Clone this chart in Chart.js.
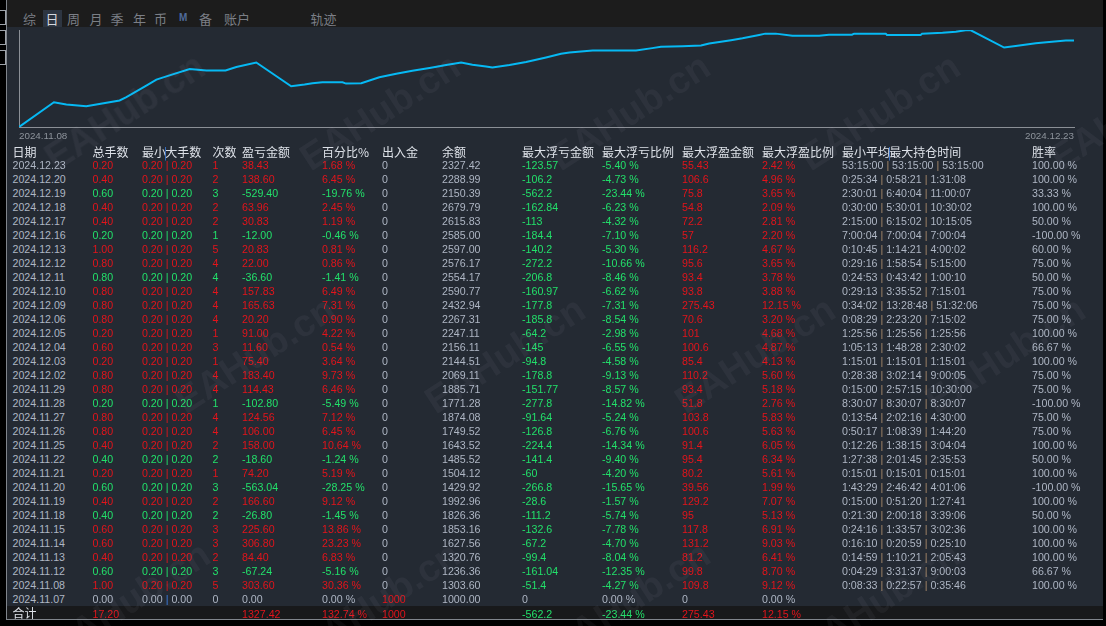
<!DOCTYPE html>
<html>
<head>
<meta charset="utf-8">
<script src="https://cdn.jsdelivr.net/npm/chart.js@4.4.1/dist/chart.umd.min.js"></script>
<style>
  html, body { margin: 0; padding: 0; background: #000; }
  #screen { position: relative; width: 1106px; height: 626px; overflow: hidden; background: #000;
            font-family: "Liberation Sans", Arial, sans-serif; }
  #topbar { position: absolute; left: 7px; top: 0; width: 1096px; height: 27px; background: #1c1c1c; }
  #panel { position: absolute; left: 7px; top: 27px; width: 1096px; height: 592px; background: #242a33; }
  #frame { position: absolute; left: 6px; top: 0; width: 1097px; height: 620px;
           border-left: 1px solid #80858c; border-bottom: 1px solid #80858c; box-sizing: border-box; }
  #sumrow { position: absolute; left: 7px; top: 606px; width: 1096px; height: 13px; background: #18191b; }
  .tab { position: absolute; top: 10px; font: 13px "Noto Sans CJK SC", sans-serif; color: #7b7f86; line-height: 17px; }
  .tab.sel { color: #d4d8de; background: #2d3541; padding: 0 3px; margin-left: -3px; }
  .box { position: absolute; left: -6px; width: 10px; height: 13px; border: 1px solid #9ea3aa; }
  #curve { position: absolute; left: 0; top: 27px; }
  .cell { position: absolute; white-space: nowrap; font-size: 10.65px; line-height: 14px; height: 14px; }
  .head { font: 12px "Noto Sans CJK SC", sans-serif; color: #dde1e8; line-height: 14px; }
  .wm { position: absolute; font: bold 38px "Liberation Sans", Arial, sans-serif; color: rgba(210,220,235,0.05);
        transform: translate(-50%, -50%) rotate(-33deg); white-space: nowrap; pointer-events: none; }
</style>
</head>
<body>
<div id="screen">
  <div id="topbar"></div>
  <div id="panel"></div>
  <div id="sumrow"></div>
  <div id="frame"></div>
  <div class="box" style="top:10px"></div>
  <div class="box" style="top:30px"></div>
  <div class="box" style="top:50px"></div>
  <div id="tabs"></div>
  <canvas id="curve" width="1106" height="124"></canvas>
  <div id="table"></div>
</div>
<script>
// equity curve (x: days after 2024.11.08, y: balance)
const curveDay = [0, 1.49, 2.02, 2.87, 3.30, 4.29, 4.58, 5.43, 5.86, 6.42, 7.28, 7.99, 8.81, 9.27, 10.12,
  11.61, 12.18, 12.52, 12.94, 13.80, 13.95, 14.60, 15.37, 16.09, 16.78, 17.51, 18.22, 18.86, 19.34, 19.92,
  20.19, 20.92, 21.63, 22.48, 23.12, 23.48, 23.97, 24.47, 26.32, 27.01, 27.38, 28.30, 29.09, 29.44, 30.37,
  30.86, 31.57, 31.83, 32.28, 32.99, 34.13, 34.55, 35.53, 35.62, 36.97, 37.02, 38.46, 38.52, 39.39, 39.96,
  40.38, 40.60, 42.02, 42.51, 43.37, 43.94, 44.65, 45.00];
const curveEquity = [1000, 1431, 1392, 1362, 1392, 1461, 1518, 1719, 1823, 1897, 2007, 1983, 1983, 2042, 2121,
  1707, 1737, 1759, 1776, 1776, 1754, 1759, 1863, 1926, 1978, 2025, 2076, 2121, 2082, 2052,
  2035, 2076, 2128, 2208, 2271, 2294, 2311, 2328, 2328, 2370, 2392, 2404, 2415, 2449, 2508,
  2542, 2599, 2622, 2622, 2587, 2587, 2604, 2604, 2622, 2622, 2599, 2599, 2622, 2639, 2656,
  2680, 2680, 2380, 2409, 2456, 2478, 2501, 2501];
const axisLabels = ["2024.11.08", "2024.12.23"];

const tabNames = ["综", "日", "周", "月", "季", "年", "币", "M", "备", "账户", "轨迹"];

// daily report table
const headers = ["日期", "总手数", "最小|大手数", "次数", "盈亏金额", "百分比%", "出入金", "余额",
  "最大浮亏金额", "最大浮亏比例", "最大浮盈金额", "最大浮盈比例", "最小平均|最大持仓时间", "胜率"];
const dates = ["2024.12.23", "2024.12.20", "2024.12.19", "2024.12.18", "2024.12.17", "2024.12.16",
  "2024.12.13", "2024.12.12", "2024.12.11", "2024.12.10", "2024.12.09", "2024.12.06", "2024.12.05",
  "2024.12.04", "2024.12.03", "2024.12.02", "2024.11.29", "2024.11.28", "2024.11.27", "2024.11.26",
  "2024.11.25", "2024.11.22", "2024.11.21", "2024.11.20", "2024.11.19", "2024.11.18", "2024.11.15",
  "2024.11.14", "2024.11.13", "2024.11.12", "2024.11.08", "2024.11.07"];
const totalLots = ["0.20", "0.40", "0.60", "0.40", "0.40", "0.20", "1.00", "0.80", "0.80", "0.80", "0.80",
  "0.80", "0.20", "0.60", "0.20", "0.80", "0.80", "0.20", "0.80", "0.80", "0.40", "0.40", "0.20", "0.60",
  "0.40", "0.40", "0.60", "0.60", "0.40", "0.60", "1.00", "0.00"];
const tradeCounts = [1, 2, 3, 2, 2, 1, 5, 4, 4, 4, 4, 4, 1, 3, 1, 4, 4, 1, 4, 4, 2, 2, 1, 3, 2, 2, 3, 3, 2, 3, 5, 0];
const profits = ["38.43", "138.60", "-529.40", "63.96", "30.83", "-12.00", "20.83", "22.00", "-36.60",
  "157.83", "165.63", "20.20", "91.00", "11.60", "75.40", "183.40", "114.43", "-102.80", "124.56",
  "106.00", "158.00", "-18.60", "74.20", "-563.04", "166.60", "-26.80", "225.60", "306.80", "84.40",
  "-67.24", "303.60", "0.00"];
const percents = ["1.68", "6.45", "-19.76", "2.45", "1.19", "-0.46", "0.81", "0.86", "-1.41", "6.49",
  "7.31", "0.90", "4.22", "0.54", "3.64", "9.73", "6.46", "-5.49", "7.12", "6.45", "10.64", "-1.24",
  "5.19", "-28.25", "9.12", "-1.45", "13.86", "23.23", "6.83", "-5.16", "30.36", "0.00"];
const deposits = ["0", "0", "0", "0", "0", "0", "0", "0", "0", "0", "0", "0", "0", "0", "0", "0", "0",
  "0", "0", "0", "0", "0", "0", "0", "0", "0", "0", "0", "0", "0", "0", "1000"];
const balances = ["2327.42", "2288.99", "2150.39", "2679.79", "2615.83", "2585.00", "2597.00", "2576.17",
  "2554.17", "2590.77", "2432.94", "2267.31", "2247.11", "2156.11", "2144.51", "2069.11", "1885.71",
  "1771.28", "1874.08", "1749.52", "1643.52", "1485.52", "1504.12", "1429.92", "1992.96", "1826.36",
  "1853.16", "1627.56", "1320.76", "1236.36", "1303.60", "1000.00"];
const floatLoss = ["-123.57", "-106.2", "-562.2", "-162.84", "-113", "-184.4", "-140.2", "-272.2",
  "-206.8", "-160.97", "-177.8", "-185.8", "-64.2", "-145", "-94.8", "-178.8", "-151.77", "-277.8",
  "-91.64", "-126.8", "-224.4", "-141.4", "-60", "-266.8", "-28.6", "-111.2", "-132.6", "-67.2",
  "-99.4", "-161.04", "-51.4", "0"];
const floatLossPct = ["-5.40", "-4.73", "-23.44", "-6.23", "-4.32", "-7.10", "-5.30", "-10.66", "-8.46",
  "-6.62", "-7.31", "-8.54", "-2.98", "-6.55", "-4.58", "-9.13", "-8.57", "-14.82", "-5.24", "-6.76",
  "-14.34", "-9.40", "-4.20", "-15.65", "-1.57", "-5.74", "-7.78", "-4.70", "-8.04", "-12.35", "-4.27", "0.00"];
const floatProfit = ["55.43", "106.6", "75.8", "54.8", "72.2", "57", "116.2", "95.6", "93.4", "93.8",
  "275.43", "70.6", "101", "100.6", "85.4", "110.2", "93.4", "51.8", "103.8", "100.6", "91.4", "95.4",
  "80.2", "39.56", "129.2", "95", "117.8", "131.2", "81.2", "99.8", "109.8", "0"];
const floatProfitPct = ["2.42", "4.96", "3.65", "2.09", "2.81", "2.20", "4.67", "3.65", "3.78", "3.88",
  "12.15", "3.20", "4.68", "4.87", "4.13", "5.60", "5.18", "2.76", "5.83", "5.63", "6.05", "6.34",
  "5.61", "1.99", "7.07", "5.13", "6.91", "9.03", "6.41", "8.70", "9.12", "0.00"];
const holdTimes = ["53:15:00|53:15:00|53:15:00", "0:25:34|0:58:21|1:31:08", "2:30:01|6:40:04|11:00:07",
  "0:30:00|5:30:01|10:30:02", "2:15:00|6:15:02|10:15:05", "7:00:04|7:00:04|7:00:04",
  "0:10:45|1:14:21|4:00:02", "0:29:16|1:58:54|5:15:00", "0:24:53|0:43:42|1:00:10",
  "0:29:13|3:35:52|7:15:01", "0:34:02|13:28:48|51:32:06", "0:08:29|2:23:20|7:15:02",
  "1:25:56|1:25:56|1:25:56", "1:05:13|1:48:28|2:30:02", "1:15:01|1:15:01|1:15:01",
  "0:28:38|3:02:14|9:00:05", "0:15:00|2:57:15|10:30:00", "8:30:07|8:30:07|8:30:07",
  "0:13:54|2:02:16|4:30:00", "0:50:17|1:08:39|1:44:20", "0:12:26|1:38:15|3:04:04",
  "1:27:38|2:01:45|2:35:53", "0:15:01|0:15:01|0:15:01", "1:43:29|2:46:42|4:01:06",
  "0:15:00|0:51:20|1:27:41", "0:21:30|2:00:18|3:39:06", "0:24:16|1:33:57|3:02:36",
  "0:16:10|0:20:59|0:25:10", "0:14:59|1:10:21|2:05:43", "0:04:29|3:31:37|9:00:03",
  "0:08:33|0:22:57|0:35:46", ""];
const winRates = ["100.00", "100.00", "33.33", "100.00", "50.00", "-100.00", "60.00", "75.00", "50.00",
  "75.00", "75.00", "75.00", "100.00", "66.67", "100.00", "75.00", "75.00", "-100.00", "75.00", "75.00",
  "100.00", "50.00", "100.00", "-100.00", "100.00", "50.00", "100.00", "100.00", "100.00", "66.67", "100.00", ""];
const totalsRow = { lots: "17.20", profit: "1327.42", pct: "132.74", deposit: "1000",
  floatLoss: "-562.2", floatLossPct: "-23.44", floatProfit: "275.43", floatProfitPct: "12.15" };

const RED = "#e3141b", GREEN = "#22e06a", GRAY = "#aeb6c4", PIPE = "#3d7fe0", TAN = "#a8896a";
const colX = [12.5, 92.5, 142, 212.5, 242, 322, 382, 442, 522, 602, 682, 762, 842, 1032];
const headY = 144.5, firstRowY = 158, rowStep = 14, sumY = 606.5;

// tabs
const tabX = [23, 45.5, 67, 89.5, 110.5, 133, 154, 179, 199, 224, 310.5];
const tabs = document.getElementById("tabs");
tabNames.forEach((t, i) => {
  const el = document.createElement("div");
  el.className = "tab" + (i === 1 ? " sel" : "");
  el.style.left = tabX[i] + "px";
  el.textContent = t;
  if (t === "M") {
    el.style.font = "bold 10px 'Liberation Sans', sans-serif";
    el.style.color = "#4f6a9a";
    el.style.top = "12px";
  }
  tabs.appendChild(el);
});

// watermark
const screen = document.getElementById("screen");
[[125, 112], [380, 112], [630, 112], [880, 112], [1130, 112],
 [255, 355], [505, 355], [755, 355], [1005, 355],
 [130, 600], [380, 600], [630, 600], [880, 600]].forEach(([x, y]) => {
  const w = document.createElement("div");
  w.className = "wm";
  w.style.left = x + "px";
  w.style.top = y + "px";
  w.textContent = "EAHub.cn";
  screen.appendChild(w);
});

// table
const table = document.getElementById("table");
function cell(x, y, html, color, cls) {
  const el = document.createElement("div");
  el.className = cls || "cell";
  el.style.left = x + "px";
  el.style.top = y + "px";
  if (color) el.style.color = color;
  el.innerHTML = html;
  table.appendChild(el);
}
function pipeJoin(text, pipeColor) {
  return text.split("|").join(` <span style="color:${pipeColor}">|</span> `);
}

headers.forEach((h, i) => {
  const html = h.includes("|")
    ? h.replace("|", `<span style="color:${PIPE};margin:0 -2px">|</span>`) : h;
  cell(colX[i], headY, html, null, "cell head");
});

dates.forEach((d, r) => {
  const y = firstRowY + r * rowStep;
  const p = parseFloat(profits[r]);
  const sign = p > 0 ? RED : p < 0 ? GREEN : GRAY;
  cell(colX[0], y, d, GRAY);
  cell(colX[1], y, totalLots[r], sign);
  const lot = totalLots[r] === "0.00" ? "0.00" : "0.20";
  cell(colX[2], y, pipeJoin(lot + "|" + lot, p === 0 ? PIPE : sign), sign);
  cell(colX[3], y, String(tradeCounts[r]), sign);
  cell(colX[4], y, profits[r], sign);
  cell(colX[5], y, percents[r] + " %", sign);
  cell(colX[6], y, deposits[r], deposits[r] === "0" ? GRAY : RED);
  cell(colX[7], y, balances[r], GRAY);
  const fl = parseFloat(floatLoss[r]), fp = parseFloat(floatProfit[r]);
  cell(colX[8], y, floatLoss[r], fl < 0 ? GREEN : GRAY);
  cell(colX[9], y, floatLossPct[r] + " %", fl < 0 ? GREEN : GRAY);
  cell(colX[10], y, floatProfit[r], fp > 0 ? RED : GRAY);
  cell(colX[11], y, floatProfitPct[r] + " %", fp > 0 ? RED : GRAY);
  if (holdTimes[r]) cell(colX[12], y, pipeJoin(holdTimes[r], TAN), GRAY);
  if (winRates[r]) cell(colX[13], y, winRates[r] + " %", GRAY);
});

cell(colX[0], sumY - 1, "合计", null, "cell head");
cell(colX[1], sumY, totalsRow.lots, RED);
cell(colX[4], sumY, totalsRow.profit, RED);
cell(colX[5], sumY, totalsRow.pct + " %", RED);
cell(colX[6], sumY, totalsRow.deposit, RED);
cell(colX[8], sumY, totalsRow.floatLoss, GREEN);
cell(colX[9], sumY, totalsRow.floatLossPct + " %", GREEN);
cell(colX[10], sumY, totalsRow.floatProfit, RED);
cell(colX[11], sumY, totalsRow.floatProfitPct + " %", RED);

// equity curve
const points = curveDay.map((d, i) => ({ x: d, y: curveEquity[i] }));
const ctx = document.getElementById("curve").getContext("2d");
const curveChart = new Chart(ctx, {
  type: "line",
  data: {
    datasets: [
      {
        data: points,
        borderColor: "#06b9f4",
        borderWidth: 2,
        pointRadius: 0,
        tension: 0,
        fill: false,
      },
    ],
  },
  options: {
    responsive: false,
    animation: false,
    devicePixelRatio: 1,
    layout: { padding: { left: 19, right: 32, top: 3, bottom: 8 } },
    plugins: { legend: { display: false }, tooltip: { enabled: false } },
    scales: {
      x: {
        type: "linear",
        min: 0,
        max: 45,
        afterBuildTicks: (scale) => {
          scale.ticks = [{ value: 0 }, { value: 45 }];
        },
        afterFit: (scale) => {
          scale.height = 16;
        },
        grid: { display: false, drawTicks: false, tickLength: 0 },
        border: { display: true, color: "#8b8f96", width: 1 },
        ticks: {
          align: "inner",
          padding: 3,
          maxRotation: 0,
          color: "#8e949c",
          font: { size: 9.8, family: "'Liberation Sans Narrow', 'Liberation Sans', Arial, sans-serif" },
          callback: (value) => (value === 0 ? axisLabels[0] : axisLabels[1]),
        },
      },
      y: {
        min: 1000,
        max: 2685,
        afterFit: (scale) => {
          scale.width = 0;
        },
        grid: { display: false, drawTicks: false },
        border: { display: true, color: "#8b8f96", width: 1 },
        ticks: { display: false },
      },
    },
  },
});
</script>
</body>
</html>
